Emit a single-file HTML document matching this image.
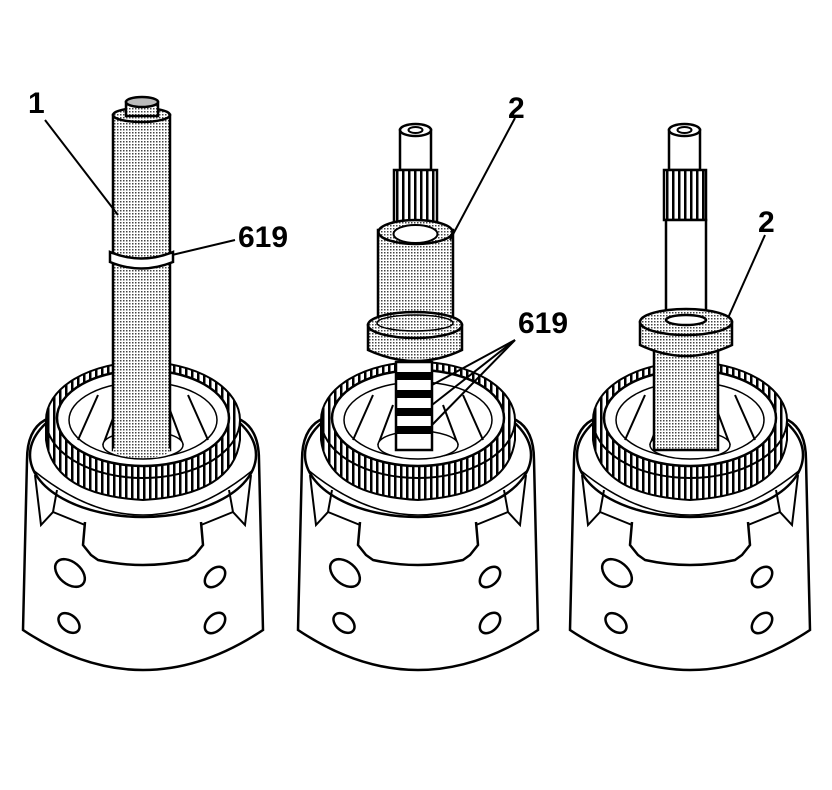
<!DOCTYPE html>
<html><head><meta charset="utf-8"><style>
html,body{margin:0;padding:0;background:#fff;}
svg{display:block;}
text{font-family:"Liberation Sans",sans-serif;font-weight:bold;font-size:30px;fill:#000;}
</style></head><body>
<svg width="832" height="790" viewBox="0 0 832 790" xmlns="http://www.w3.org/2000/svg">
<defs>
<pattern id="dots" width="3" height="3" patternUnits="userSpaceOnUse">
<rect width="3" height="3" fill="#fff"/><rect width="1.5" height="1.5" fill="#444"/>
</pattern>
<pattern id="teeth" width="6" height="10" patternUnits="userSpaceOnUse">
<rect width="6" height="10" fill="#fff"/><rect width="2.5" height="10" fill="#000"/>
</pattern>
<g id="housing" stroke="#000" stroke-width="2.5" fill="#fff">
  <path d="M4 460 Q4 430 22 420 L218 420 Q236 430 236 460 L240 630 Q120 710 0 630 Z"/>
  <ellipse cx="120" cy="455" rx="113" ry="62"/>
  <path d="M10 470 Q120 560 230 470" fill="none" stroke-width="1.5"/>
  <path d="M23 420 L23 440 Q30 495 120 500 Q210 495 217 440 L217 420 Z" fill="url(#teeth)" stroke-width="2"/>
  <ellipse cx="120" cy="420" rx="97" ry="58" fill="url(#teeth)" stroke-width="2"/>
  <ellipse cx="120" cy="418" rx="86" ry="48" fill="#fff"/>
  <ellipse cx="120" cy="420" rx="74" ry="38" fill="#fff" stroke-width="1.5"/>
  <path d="M55 440 L75 395 M185 440 L165 395 M80 445 L95 405 M160 445 L145 405" stroke-width="2" fill="none"/>
  <ellipse cx="120" cy="445" rx="40" ry="14" fill="#fff" stroke-width="1.5"/>
  <path d="M12 475 L18 525 L30 512 L34 490" fill="none" stroke-width="2"/>
  <path d="M228 475 L222 525 L210 512 L206 490" fill="none" stroke-width="2"/>
  <path d="M30 512 L62 525 M210 512 L178 525" fill="none" stroke-width="2"/>
  <path d="M62 522 L60 545 L68 555 L75 560 Q120 570 165 560 L172 555 L180 545 L178 522" fill="none" stroke-width="2.5"/>
  <ellipse cx="47" cy="573" rx="17" ry="11" transform="rotate(40 47 573)" stroke-width="2.5"/>
  <ellipse cx="192" cy="577" rx="12" ry="8" transform="rotate(-45 192 577)" stroke-width="2.5"/>
  <ellipse cx="46" cy="623" rx="12" ry="8" transform="rotate(40 46 623)" stroke-width="2.5"/>
  <ellipse cx="192" cy="623" rx="12" ry="8" transform="rotate(-45 192 623)" stroke-width="2.5"/>
</g>
</defs>

<use href="#housing" x="23" y="0"/>
<use href="#housing" x="298" y="0"/>
<use href="#housing" x="570" y="0"/>

<g stroke="#000" stroke-width="2.5">
<rect x="113" y="115" width="57" height="335" fill="url(#dots)"/>
<ellipse cx="141.5" cy="450" rx="28.5" ry="8" fill="url(#dots)" stroke="none"/>
<ellipse cx="141.5" cy="115" rx="28.5" ry="7" fill="url(#dots)"/>
<rect x="126" y="102" width="32" height="14" fill="url(#dots)"/>
<ellipse cx="142" cy="102" rx="16" ry="5" fill="#bbb"/>
<path d="M110 252 Q141 265 173 252 L173 262 Q141 275 110 262 Z" fill="#fff"/>

<rect x="400" y="130" width="31" height="40" fill="#fff"/>
<ellipse cx="415.5" cy="130" rx="15.5" ry="6" fill="#fff"/>
<ellipse cx="415.5" cy="130" rx="7" ry="3" fill="#fff" stroke-width="2"/>
<rect x="394" y="170" width="43" height="58" fill="url(#teeth)"/>
<rect x="378" y="230" width="75" height="98" fill="url(#dots)"/>
<ellipse cx="415.5" cy="232" rx="37" ry="12" fill="url(#dots)"/>
<ellipse cx="415.5" cy="234" rx="22" ry="9" fill="#fff" stroke-width="2"/>
<path d="M368 325 L368 350 Q416 372 462 350 L462 325 Z" fill="url(#dots)"/>
<ellipse cx="415" cy="325" rx="47" ry="13" fill="url(#dots)"/>
<ellipse cx="415" cy="323" rx="38" ry="8" fill="url(#dots)" stroke-width="1.5"/>
<rect x="396" y="362" width="36" height="88" fill="#fff"/>
<g fill="#000" stroke="none">
<rect x="396" y="372" width="36" height="8"/><rect x="396" y="390" width="36" height="8"/>
<rect x="396" y="408" width="36" height="8"/><rect x="396" y="426" width="36" height="8"/>
</g>

<rect x="669" y="130" width="31" height="40" fill="#fff"/>
<ellipse cx="684.5" cy="130" rx="15.5" ry="6" fill="#fff"/>
<ellipse cx="684.5" cy="130" rx="7" ry="3" fill="#fff" stroke-width="2"/>
<rect x="664" y="170" width="42" height="50" fill="url(#teeth)"/>
<rect x="666" y="220" width="40" height="100" fill="#fff"/>
<rect x="654" y="350" width="64" height="100" fill="url(#dots)"/>
<path d="M640 322 L640 345 Q686 367 732 345 L732 322 Z" fill="url(#dots)"/>
<ellipse cx="686" cy="322" rx="46" ry="13" fill="url(#dots)"/>
<ellipse cx="686" cy="320" rx="20" ry="5" fill="#fff"/>
</g>

<g stroke="#000" stroke-width="2" fill="none">
<line x1="45" y1="120" x2="118" y2="215"/>
<line x1="172" y1="255" x2="235" y2="240"/>
<line x1="515" y1="118" x2="450" y2="240"/>
<line x1="515" y1="340" x2="432" y2="385"/>
<line x1="515" y1="340" x2="432" y2="405"/>
<line x1="515" y1="340" x2="432" y2="425"/>
<line x1="765" y1="235" x2="728" y2="318"/>
</g>

<text x="28" y="113">1</text>
<text x="238" y="247">619</text>
<text x="508" y="118">2</text>
<text x="518" y="333">619</text>
<text x="758" y="232">2</text>
</svg>
</body></html>
